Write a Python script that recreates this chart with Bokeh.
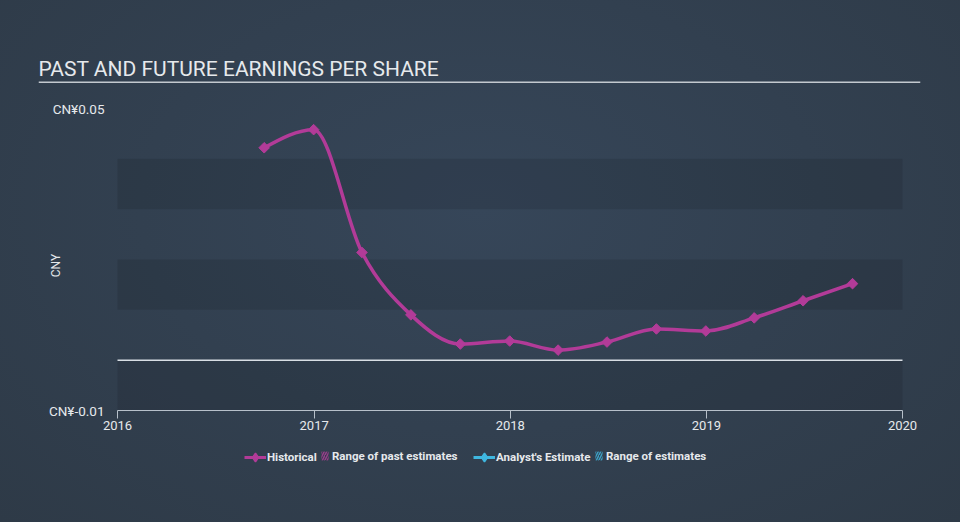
import numpy as np
import pandas as pd
from bokeh.plotting import figure
from bokeh.layouts import column
from bokeh.models import (BoxAnnotation, Label, Legend, LegendItem, FixedTicker,
                          CustomJSTickFormatter, Range1d, ColumnDataSource)
from bokeh.embed import file_html
from bokeh.resources import INLINE

# ---- data ----
dates = ["2016-09-30", "2016-12-31", "2017-03-31", "2017-06-30", "2017-09-30",
         "2017-12-31", "2018-03-31", "2018-06-30", "2018-09-30", "2018-12-31",
         "2019-03-31", "2019-06-30", "2019-09-30"]
eps = [0.0422, 0.0458, 0.0214, 0.0090, 0.0032, 0.0038, 0.0020, 0.0036,
       0.0062, 0.0058, 0.0084, 0.0118, 0.0152]
x_ticks = ["2016-01-01", "2017-01-01", "2018-01-01", "2019-01-01", "2020-01-01"]
y_ticks = [-0.01, 0.05]
bands = [(-0.01, 0.0), (0.01, 0.02), (0.03, 0.04)]
title_text = "PAST AND FUTURE EARNINGS PER SHARE"
y_label = "CNY"
legend_labels = ["Historical", "Range of past estimates", "Analyst's Estimate", "Range of estimates"]

MAG = "#b23b98"
CYAN = "#3fb7e0"
TXT = "#e6e9ec"
RULE = "#c3c9cf"
BG_CSS = "radial-gradient(ellipse farthest-corner at 50% 40%, #364659 0%, #2e3a47 100%)"
W = 960
H_HEAD, H_MAIN, H_FOOT = 95, 345, 82
FL, FR = 38, 920            # frame left/right (canvas px)
PL, PR = 117, 902           # plotting area of the axis (canvas px)
DIAMOND = np.pi / 4         # square marker turned into a diamond


def ms(d):
    return pd.Timestamp(d).value / 1e6


def bare(fig):
    fig.background_fill_color = None
    fig.border_fill_color = None
    fig.outline_line_color = None
    fig.grid.visible = False
    return fig


xs = np.array([ms(d) for d in dates])
ys = np.array(eps)
tick_ms = [ms(d) for d in x_ticks]
t0, t1 = tick_ms[0], tick_ms[-1]
dpp = (t1 - t0) / (PR - PL)

# ---- header ----
head = bare(figure(width=W, height=H_HEAD, output_backend="svg", toolbar_location=None,
                   x_range=Range1d(FL, FR), y_range=Range1d(H_HEAD, 0),
                   x_axis_location=None, y_axis_location=None,
                   min_border_left=FL, min_border_right=W - FR,
                   min_border_top=0, min_border_bottom=0))
head.add_layout(Label(x=FL, y=68, text=title_text, text_font="Roboto",
                      text_font_size="21px", text_color=TXT, text_baseline="middle"))
head.add_layout(BoxAnnotation(left=FL, right=FR, top=81, bottom=82.5,
                              fill_color=RULE, fill_alpha=1, line_color=None))

# ---- main chart ----
p = bare(figure(width=W, height=H_MAIN, output_backend="svg", toolbar_location=None,
                x_axis_type="datetime",
                x_range=Range1d(t0 - (PL - FL) * dpp, t1 + (FR - PR) * dpp),
                y_range=Range1d(-0.01, 0.05),
                min_border_left=FL, min_border_right=W - FR,
                min_border_top=108 - H_HEAD, min_border_bottom=H_HEAD + H_MAIN - 410))

for lo, hi in bands:
    p.add_layout(BoxAnnotation(left=t0, right=t1, bottom=lo, top=hi, fill_color="black",
                               fill_alpha=0.1, line_color=None, level="underlay"))
p.segment(x0=[t0], x1=[t1], y0=[0], y1=[0], line_color="#d8dee4", line_width=1.5)

# monotone cubic (curveMonotoneX-style) bezier segments through the data points
h = np.diff(xs)
d = np.diff(ys) / h
m = np.zeros_like(ys)
for i in range(1, len(ys) - 1):
    p0 = (d[i - 1] * h[i] + d[i] * h[i - 1]) / (h[i - 1] + h[i])
    m[i] = (np.sign(d[i - 1]) + np.sign(d[i])) * min(abs(d[i - 1]), abs(d[i]), 0.5 * abs(p0))
m[0] = (3 * d[0] - m[1]) / 2
m[-1] = (3 * d[-1] - m[-2]) / 2
bz = ColumnDataSource(dict(
    x0=xs[:-1], y0=ys[:-1], x1=xs[1:], y1=ys[1:],
    cx0=xs[:-1] + h / 3, cy0=ys[:-1] + m[:-1] * h / 3,
    cx1=xs[1:] - h / 3, cy1=ys[1:] - m[1:] * h / 3))
p.bezier("x0", "y0", "x1", "y1", "cx0", "cy0", "cx1", "cy1", source=bz,
         line_color=MAG, line_width=3.5)
p.scatter(xs, ys, marker="square", angle=DIAMOND, size=7.5, fill_color=MAG, line_color=MAG)

p.xaxis.ticker = FixedTicker(ticks=tick_ms)
p.xaxis.bounds = (t0, t1)
p.xaxis.formatter = CustomJSTickFormatter(code="return String(new Date(tick).getUTCFullYear());")
p.xaxis.axis_line_color = "#b7c0ca"
p.xaxis.major_tick_line_color = "#b7c0ca"
p.xaxis.major_tick_out = 8
p.xaxis.major_tick_in = 0
p.xaxis.minor_tick_line_color = None
p.xaxis.major_label_text_color = TXT
p.xaxis.major_label_text_font = "Roboto"
p.xaxis.major_label_text_font_size = "13px"
p.xaxis.major_label_standoff = 2

p.yaxis.ticker = FixedTicker(ticks=y_ticks)
p.yaxis.formatter = CustomJSTickFormatter(code="return 'CN¥' + tick.toFixed(2);")
p.yaxis.axis_line_color = None
p.yaxis.major_tick_line_color = None
p.yaxis.major_tick_out = 0
p.yaxis.major_tick_in = 0
p.yaxis.minor_tick_line_color = None
p.yaxis.major_label_text_color = TXT
p.yaxis.major_label_text_font = "Roboto"
p.yaxis.major_label_text_font_size = "13.5px"
p.yaxis.major_label_standoff = FL - 104

p.add_layout(Label(x=55 - FL, y=410 - 265, x_units="screen", y_units="screen",
                   text=y_label, angle=np.pi / 2, text_font="Roboto", text_font_size="12px",
                   text_color=TXT, text_align="center", text_baseline="middle"))

# ---- footer legend (proxy renderers lie outside the footer's visible range) ----
foot = bare(figure(width=W, height=H_FOOT, output_backend="svg", toolbar_location=None,
                   x_range=Range1d(FL, FR), y_range=Range1d(0, 1),
                   x_axis_location=None, y_axis_location=None,
                   min_border_left=FL, min_border_right=W - FR,
                   min_border_top=0, min_border_bottom=0))
px, py = [-10, -5], [-10, -10]
hl = foot.line(x=px, y=py, line_color=MAG, line_width=3)
hs = foot.scatter(x=px, y=py, marker="diamond", fill_color=MAG, line_color=MAG, line_width=1.5)
hr = foot.varea(x=px, y1=py, y2=[-9, -9], fill_alpha=0, hatch_pattern="/", hatch_color=MAG,
                hatch_scale=5, hatch_weight=1.5, hatch_alpha=0.8)
al = foot.line(x=px, y=py, line_color=CYAN, line_width=3)
asc = foot.scatter(x=px, y=py, marker="diamond", fill_color=CYAN, line_color=CYAN, line_width=1.5)
ar = foot.varea(x=px, y1=py, y2=[-9, -9], fill_alpha=0, hatch_pattern="/", hatch_color=CYAN,
                hatch_scale=5, hatch_weight=1.5, hatch_alpha=0.8)

LEG_CY = 457 - (H_HEAD + H_MAIN)   # legend row centre, from footer top


def mk_leg(label, rends, x, gw, gh, standoff):
    lg = Legend(items=[LegendItem(label=label, renderers=rends)],
                location=(x - FL, H_FOOT - LEG_CY - gh / 2),
                orientation="horizontal", padding=0, margin=0, spacing=0,
                glyph_width=gw, glyph_height=gh, label_standoff=standoff,
                background_fill_alpha=0, border_line_alpha=0,
                label_text_font="Roboto", label_text_font_size="11.5px",
                label_text_font_style="bold",
                label_text_color=TXT, label_height=gh)
    foot.add_layout(lg, "center")


mk_leg(legend_labels[0], [hl, hs], 244, 22, 28, 1)
mk_leg(legend_labels[1], [hr], 320, 9, 11, 3)
mk_leg(legend_labels[2], [al, asc], 473, 22, 28, 1)
mk_leg(legend_labels[3], [ar], 594, 9, 11, 3)

layout = column(head, p, foot, spacing=0, styles={"background": BG_CSS})
open("out.html", "w").write(file_html(layout, INLINE))
